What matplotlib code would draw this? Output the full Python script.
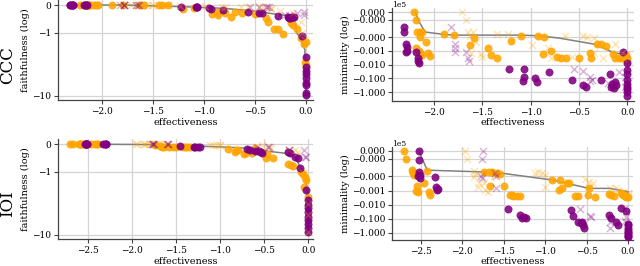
import matplotlib
matplotlib.use("Agg")
import matplotlib.pyplot as plt
from matplotlib.ticker import ScalarFormatter

plt.rcParams['font.family'] = ['DejaVu Serif']

# ---------------- CCC data (effectiveness, faithfulness, minimality) ----------------
ccc_orange_eff = [-2.21, -2.18, -2.17, -2.14, -2.12, -2.14, -2.08, -2.18, -2.15, -2.14, -2.12, -2.06, -2.04,
                  -1.90, -1.79, -1.63, -1.59, -1.44, -1.41, -1.35, -1.20, -1.10, -0.92, -0.86, -0.87, -0.79,
                  -0.73, -0.69, -0.63, -0.50, -0.39, -0.37, -0.31, -0.27, -0.22, -0.15, -0.13, -0.09, -0.05,
                  -0.02, 0.0, -0.01, 0.0]
ccc_orange_faith = [0, 0, 0, 0, 0, 0, 0, 0, 0, 0, 0, 0, 0,
                    0, 0, 0, 0, 0, 0, 0, -0.13, -0.12, -0.33, -0.36, -0.24, -0.30,
                    -0.44, -0.24, -0.28, -0.33, -0.48, -0.62, -0.87, -0.87, -1.05, -0.66, -0.72, -0.87, -1.19,
                    -1.41, -2.43, -2.08, -1.32]
ccc_orange_min = [0, -1, -4.6, -4.6, -4.1, -10, -22, -66, -98, -152, -200, -152, -240,
                  -6.4, -7.5, -38, -11, -60, -200, -350, -18, -8, -8, -10, -170, -98,
                  -300, -350, -350, -320, -140, -350, -32, -34, -43, -170, -350, -350, -350,
                  -350, -350, -200, -520]

ccc_orange_x_eff = [-1.71, -1.67, -1.65, -1.60, -1.63, -1.56, -1.62, -1.51, -1.50, -1.35, -1.23, -0.99,
                    -0.82, -0.79, -0.64, -0.57, -0.46, -0.42, -0.34, -0.34, -0.25, -0.13, -0.05, -0.04, -0.01]
ccc_orange_x_faith = [0, 0, 0, 0, 0, 0, 0, 0, 0, 0, -0.05, -0.05,
                      -0.07, -0.07, -0.07, -0.07, -0.07, -0.07, -0.10, -0.15, -0.20, -0.30, -0.60, -1.00, -1.25]
ccc_orange_x_min = [0, -1, -4.6, -4.1, -8.5, -22, -150, -180, -270, -6.4, -6.4, -38,
                    -66, -350, -8.5, -300, -8.5, -10.5, -12.4, -150, -350, -32, -150, -350, -200]

ccc_purple_eff = [-2.31, -2.31, -2.29, -2.28, -2.29, -2.28, -2.18, -2.16, -2.16, -2.15,
                  -1.22, -1.07, -1.07, -1.08, -0.95, -0.93, -0.81, -0.57, -0.46, -0.43,
                  -0.27, -0.18, -0.17, -0.14, -0.12, -0.16, -0.13, -0.04,
                  0.0, 0.0, 0.0, 0.0, 0.0, 0.0, 0.0, 0.0, 0.0]
ccc_purple_faith = [0, 0, 0, 0, 0, 0, 0, 0, 0, 0,
                    -0.08, -0.08, -0.08, -0.08, -0.12, -0.15, -0.18, -0.24, -0.28, -0.28,
                    -0.38, -0.44, -0.48, -0.42, -0.44, -0.48, -0.42, -1.11,
                    -1.85, -2.63, -3.15, -3.67, -4.47, -5.62, -6.08, -8.9, -9.6]
ccc_purple_min = [-1.9, -4.6, -34, -56, -116, -98, -116, -350, -550, -800,
                  -2200, -2200, -7500, -15000, -9800, -20000, -3600, -14000, -30000, -40000,
                  -13000, -4800, -45000, -50000, -30000, -28000, -20000, -130,
                  -800, -2400, -4800, -13000, -25000, -45000, -60000, -100000, -200000]

ccc_purple_x_eff = [-1.82, -1.78, -1.78, -1.78, -1.67, -1.65, -1.64, -0.55, -0.46, -0.39, -0.38, -0.36,
                    -0.20, -0.17, -0.09, -0.02, -0.02]
ccc_purple_x_faith = [0, 0, 0, 0, 0, 0, 0, -0.06, -0.06, -0.06, -0.06, -0.06,
                      -0.36, -0.36, -0.28, -0.24, -0.36]
ccc_purple_x_min = [-1.9, -34, -66, -116, -116, -350, -550, -2200, -2800, -8000, -17000, -13000,
                    -23000, -45000, -3600, -7500, -45000]

ccc_faith_front_eff = [-2.31, -1.78, -1.22, -1.06, -0.80, -0.56, -0.43, -0.25, -0.12, -0.09, -0.06, -0.01, 0.0]
ccc_faith_front_val = [0, 0, -0.06, -0.08, -0.12, -0.20, -0.26, -0.35, -0.40, -1.0, -1.15, -1.6, -9.6]
ccc_min_front_eff = [-2.19, -2.16, -2.09, -1.90, -1.80, -1.11, -0.91, -0.70, -0.33, -0.15, -0.02]
ccc_min_front_val = [0, -1.1, -4.3, -6.4, -7.2, -7.2, -8, -12, -34, -128, -200]

# ---------------- IOI data ----------------
ioi_orange_eff = [-2.70, -2.67, -2.60, -2.59, -2.58, -2.59, -2.54, -2.53, -2.55, -2.46, -2.42, -2.40, -2.39,
                  -1.74, -1.68, -1.64, -1.58, -1.54, -1.66, -1.50, -1.40, -1.42, -1.38, -1.34, -1.30,
                  -0.91, -0.82, -0.83, -0.80, -0.73, -0.71, -0.64, -0.60, -0.47, -0.48, -0.40,
                  -0.20, -0.17, -0.23, -0.08, -0.06, -0.04, -0.02, -0.05, 0.0]
ioi_orange_faith = [0, 0, 0, 0, 0, 0, 0, 0, 0, 0, 0, 0, 0,
                    -0.02, -0.08, -0.10, -0.10, -0.12, -0.10, -0.12, -0.10, -0.10, -0.10, -0.10, -0.10,
                    -0.18, -0.22, -0.28, -0.22, -0.37, -0.33, -0.33, -0.15, -0.37, -0.49, -0.51,
                    -0.76, -0.78, -0.73, -1.0, -1.09, -1.18, -1.30, -1.54, -1.90]
ioi_orange_min = [0, -1, -3.6, -5.2, -8.1, -6.1, -48, -120, -108, -28, -4.3, -134, -207,
                  -5.2, -4.7, -5.2, -6.1, -6.9, -46, -46, -207, -207, -230, -240, -240,
                  -18, -18, -92, -63, -28, -31, -230, -240, -70, -207, -270,
                  -207, -240, -180, -160, -200, -250, -300, -220, -280]

ioi_orange_x_eff = [-1.96, -1.94, -1.86, -1.84, -1.86, -1.81, -1.79, -1.74, -1.69, -1.72, -1.62, -1.60,
                    -1.12, -1.08, -1.04, -1.00, -1.00, -0.52, -0.47, -0.42, -0.22, -0.15, -0.12, -0.06,
                    0.0, 0.0, 0.0]
ioi_orange_x_faith = [0, 0, 0, 0, 0, 0, 0, 0, 0, 0, 0, 0,
                      -0.05, -0.05, -0.05, -0.05, -0.05, -0.04, -0.10, -0.15, -0.22, -0.22, -0.30, -1.05,
                      -2.4, -4.1, -8.7]
ioi_orange_x_min = [0, -1, -4.3, -7.2, -10.6, -54, -27, -31, -134, -92, -9, -6.1,
                    -6.1, -5.2, -6.1, -8.1, -54, -16, -24, -27, -70, -63, -92, -120,
                    -150, -200, -250]

ioi_purple_eff = [-2.52, -2.52, -2.52, -2.51, -2.51, -2.53, -2.33, -2.31, -2.30, -2.29,
                  -1.45, -1.30, -1.28, -1.23, -1.25, -0.69, -0.66, -0.60, -0.56, -0.54, -0.53, -0.57,
                  -0.23, -0.21, -0.15, -0.12, -0.09, -0.02,
                  0.0, 0.0, 0.0, 0.0, 0.0, 0.0, 0.0, 0.0, 0.0]
ioi_purple_faith = [0, 0, 0, 0, 0, 0, 0, 0, 0, 0,
                    -0.07, -0.10, -0.10, -0.10, -0.10, -0.18, -0.22, -0.25, -0.25, -0.30, -0.33, -0.25,
                    -0.30, -0.33, -0.46, -0.51, -0.85, -1.65,
                    -2.03, -2.56, -2.97, -3.57, -4.38, -5.1, -6.2, -7.3, -8.7]
ioi_purple_min = [0, -1.1, -5.2, -8.1, -12.5, -9, -10.6, -60, -92, -78,
                  -2000, -5300, -8300, -8300, -7000, -2300, -6200, -17000, -17000, -27000, -46000, -20000,
                  -5300, -9000, -17000, -27000, -1600, -3000,
                  -24000, -30000, -46000, -60000, -80000, -100000, -140000, -170000, -200000]

ioi_purple_x_eff = [-1.75, -1.76, -1.77, -1.76, -1.60, -1.59, -1.59, -0.58, -0.46, -0.44, -0.22, -0.22,
                    -0.05, -0.03, -0.04]
ioi_purple_x_faith = [0, 0, 0, 0, 0, 0, 0, -0.10, -0.10, -0.10, -0.22, -0.22,
                      -0.22, -0.46, -0.46]
ioi_purple_x_min = [0, -1, -9, -12.5, -6.1, -9, -70, -2000, -6000, -7000, -17000, -46000,
                    -2000, -7000, -15000]

ioi_faith_front_eff = [-2.71, -1.78, -1.40, -1.02, -0.68, -0.49, -0.26, -0.15, -0.09, -0.04, -0.015, -0.015]
ioi_faith_front_val = [0, -0.02, -0.06, -0.10, -0.15, -0.25, -0.33, -0.42, -0.85, -1.1, -1.6, -9.0]
ioi_min_front_eff = [-2.52, -2.42, -1.78, -1.50, -0.91, -0.47, -0.22, 0.0, 0.0]
ioi_min_front_val = [0, -3.6, -4.7, -6.1, -18, -70, -70, -120, -240]

ORANGE = "#FFA500"
PURPLE = "#800080"
W, H = 640, 266
TICK_FS = 6.5
LABEL_FS = 7
ROW_FS = 12

fig = plt.figure(figsize=(W / 100, H / 100), dpi=100)


def px_axes(x0, x1, y0, y1):
    return fig.add_axes([x0 / W, 1 - y1 / H, (x1 - x0) / W, (y1 - y0) / H])


def style(ax):
    ax.set_facecolor("white")
    ax.grid(True, color="#d4d4d4", linewidth=0.9)
    ax.set_axisbelow(True)
    for s in ["top", "right"]:
        ax.spines[s].set_visible(False)
    for s in ["left", "bottom"]:
        ax.spines[s].set_color("#444444")
        ax.spines[s].set_linewidth(0.9)
    ax.tick_params(axis="both", labelsize=TICK_FS, length=3, width=0.8, color="#444444", pad=2)


def draw(ax, front_x, front_y, series):
    ax.plot(front_x, front_y, color="gray", linewidth=1.1, zorder=2)
    for (xs, ys, kind, color) in series:
        if kind == "o":
            ax.scatter(xs, ys, s=27, color=color, alpha=0.88, linewidths=0.5, zorder=3)
        else:
            ax.scatter(xs, ys, s=26, marker="x", color=color, alpha=0.3, linewidths=1.0, zorder=4)


rows = [
    dict(name="CCC", y0=0, oe=ccc_orange_eff, of=ccc_orange_faith, om=ccc_orange_min,
         xe=ccc_orange_x_eff, xf=ccc_orange_x_faith, xm=ccc_orange_x_min,
         pe=ccc_purple_eff, pf=ccc_purple_faith, pm=ccc_purple_min,
         qe=ccc_purple_x_eff, qf=ccc_purple_x_faith, qm=ccc_purple_x_min,
         ffx=ccc_faith_front_eff, ffy=ccc_faith_front_val, mfx=ccc_min_front_eff, mfy=ccc_min_front_val,
         xlim=(-2.43, 0.07), ticks=[-2.0, -1.5, -1.0, -0.5, 0.0], rlim=(-4.5e5, 0.55), rx1=634),
    dict(name="IOI", y0=139, oe=ioi_orange_eff, of=ioi_orange_faith, om=ioi_orange_min,
         xe=ioi_orange_x_eff, xf=ioi_orange_x_faith, xm=ioi_orange_x_min,
         pe=ioi_purple_eff, pf=ioi_purple_faith, pm=ioi_purple_min,
         qe=ioi_purple_x_eff, qf=ioi_purple_x_faith, qm=ioi_purple_x_min,
         ffx=ioi_faith_front_eff, ffy=ioi_faith_front_val, mfx=ioi_min_front_eff, mfy=ioi_min_front_val,
         xlim=(-2.84, 0.054), ticks=[-2.5, -2.0, -1.5, -1.0, -0.5, 0.0], rlim=(-3.2e5, 0.5), rx1=632.5),
]

for r in rows:
    y0 = r["y0"]
    lx0, lx1, ly0, ly1 = 58, 313, y0, y0 + 100
    rx0, rx1, ry0, ry1 = 392.3, r["rx1"], y0 + 8, y0 + 101
    axl = px_axes(lx0, lx1, ly0, ly1)
    axr = px_axes(rx0, rx1, ry0, ry1)
    for ax in (axl, axr):
        style(ax)
        ax.set_yscale("symlog")
        ax.set_xlim(*r["xlim"])
        ax.set_xticks(r["ticks"])
    draw(axl, r["ffx"], r["ffy"], [
        (r["oe"], r["of"], "o", ORANGE), (r["xe"], r["xf"], "x", ORANGE),
        (r["pe"], r["pf"], "o", PURPLE), (r["qe"], r["qf"], "x", PURPLE)])
    draw(axr, r["mfx"], r["mfy"], [
        (r["oe"], r["om"], "o", ORANGE), (r["xe"], r["xm"], "x", ORANGE),
        (r["pe"], r["pm"], "o", PURPLE), (r["qe"], r["qm"], "x", PURPLE)])
    axl.set_ylim(-12.1, 0.18)
    axr.set_ylim(*r["rlim"])
    axl.yaxis.set_major_formatter(ScalarFormatter())
    fr = ScalarFormatter()
    fr.set_powerlimits((0, 0))
    axr.yaxis.set_major_formatter(fr)
    axr.yaxis.OFFSETTEXTPAD = 1
    axr.yaxis.get_offset_text().set_fontsize(5.5)

    # labels placed at measured pixel positions
    label_y_px = y0 + 122.5
    axl.set_xlabel("effectiveness", fontsize=LABEL_FS, va="center")
    axl.xaxis.set_label_coords(0.5, -(label_y_px - ly1) / (ly1 - ly0))
    axr.set_xlabel("effectiveness", fontsize=LABEL_FS, va="center")
    axr.xaxis.set_label_coords(0.5, -(label_y_px - ry1) / (ry1 - ry0))
    axl.set_ylabel("faithfulness (log)", fontsize=LABEL_FS, va="center")
    axl.yaxis.set_label_coords(-(lx0 - 25) / (lx1 - lx0), 0.5)
    axr.set_ylabel("minimality (log)", fontsize=LABEL_FS, va="center")
    axr.yaxis.set_label_coords(-(rx0 - 345) / (rx1 - rx0), 0.5)
    fig.text(8 / W, 1 - (y0 + 65) / H, r["name"], rotation=90, fontsize=ROW_FS,
             ha="center", va="center")

fig.savefig("out.png", dpi=100)
